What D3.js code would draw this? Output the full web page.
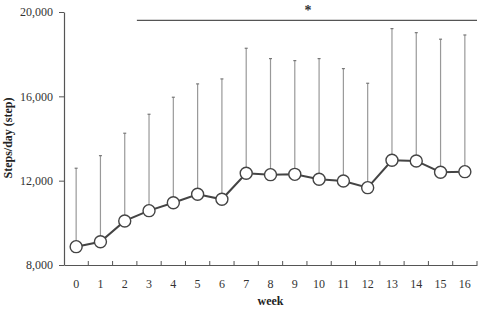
<!DOCTYPE html>
<html>
<head>
<meta charset="utf-8">
<script src="https://cdn.jsdelivr.net/npm/d3@7"></script>
<style>
  body { margin: 0; background: #fff; }
  text { font-family: "Liberation Serif", "DejaVu Serif", serif; fill: #333; }
  .axis-label { font-weight: bold; font-size: 12px; fill: #222; }
</style>
</head>
<body>
<svg id="chart" width="478" height="311"></svg>
<script>
// Steps/day by week, mean with upper SD bar
const weeks = d3.range(0, 17).map(String);
const meanSteps = [8870, 9105, 10090, 10577, 10956, 11354, 11117, 12350, 12285, 12300,
                   12066, 11986, 11668, 12968, 12935, 12400, 12427];
const upperSteps = [12590, 13186, 14250, 15150, 15957, 16590, 16826, 18280, 17790, 17694,
                    17790, 17315, 16620, 19212, 19020, 18710, 18910];
const yTicks = [8000, 12000, 16000, 20000];
// significance bracket: from week 3 to the end, marked "*"
const sigFrom = "3";
const sigLevel = 19600;

(function() {
  const svg = d3.select("#chart");
  const margin = { top: 12, right: 1, bottom: 46, left: 64 };
  const innerW = +svg.attr("width") - margin.left - margin.right;
  const innerH = +svg.attr("height") - margin.top - margin.bottom;
  const g = svg.append("g").attr("transform", `translate(${margin.left},${margin.top})`);

  const x = d3.scaleBand().domain(weeks).range([0, innerW]);
  const y = d3.scaleLinear().domain([8000, 20000]).range([innerH, 0]);
  const cx = w => x(w) + x.bandwidth() / 2;

  // Axes
  const yAxis = g.append("g")
    .call(d3.axisLeft(y).tickValues(yTicks).tickFormat(d3.format(",")).tickSize(5).tickPadding(6).tickSizeOuter(0));
  const xAxis = g.append("g")
    .attr("transform", `translate(0,${innerH})`)
    .call(d3.axisBottom(x).tickSize(0).tickPadding(14));
  // x ticks sit on band edges and point up
  xAxis.selectAll(".edge")
    .data(d3.range(1, weeks.length + 1))
    .join("line")
    .attr("class", "edge")
    .attr("x1", i => i * x.bandwidth()).attr("x2", i => i * x.bandwidth())
    .attr("y1", 0).attr("y2", -4)
    .attr("stroke", "#555");
  [yAxis, xAxis].forEach(a => {
    a.select(".domain").attr("stroke", "#555").attr("stroke-width", 1.2);
    a.selectAll(".tick line").attr("stroke", "#555");
    a.selectAll("text").attr("font-size", 12).attr("fill", "#333")
      .attr("font-family", "Liberation Serif, serif");
  });

  // Error bars (upper only)
  g.selectAll(".err")
    .data(weeks)
    .join("line")
    .attr("class", "err")
    .attr("x1", cx).attr("x2", cx)
    .attr("y1", (d, i) => y(meanSteps[i]))
    .attr("y2", (d, i) => y(upperSteps[i]))
    .attr("stroke", "#999").attr("stroke-width", 1.2);
  g.selectAll(".cap")
    .data(weeks)
    .join("line")
    .attr("class", "cap")
    .attr("x1", d => cx(d) - 1.5).attr("x2", d => cx(d) + 1.5)
    .attr("y1", (d, i) => y(upperSteps[i]))
    .attr("y2", (d, i) => y(upperSteps[i]))
    .attr("stroke", "#777").attr("stroke-width", 1.2);

  // Mean line
  const line = d3.line().x((d, i) => cx(weeks[i])).y(d => y(d));
  g.append("path")
    .datum(meanSteps)
    .attr("fill", "none")
    .attr("stroke", "#444")
    .attr("stroke-width", 2)
    .attr("d", line);

  g.selectAll(".pt")
    .data(meanSteps)
    .join("circle")
    .attr("class", "pt")
    .attr("cx", (d, i) => cx(weeks[i]))
    .attr("cy", d => y(d))
    .attr("r", 6)
    .attr("fill", "#fff")
    .attr("stroke", "#444")
    .attr("stroke-width", 1.4);

  // Significance bar
  g.append("line")
    .attr("x1", x(sigFrom)).attr("x2", innerW)
    .attr("y1", y(sigLevel)).attr("y2", y(sigLevel))
    .attr("stroke", "#555").attr("stroke-width", 1.2);
  g.append("text")
    .attr("x", (x(sigFrom) + innerW) / 2 + 1)
    .attr("y", y(sigLevel) - 5)
    .attr("text-anchor", "middle")
    .attr("font-size", 14)
    .attr("font-weight", "bold")
    .text("*");

  // Axis labels
  svg.append("text")
    .attr("class", "axis-label")
    .attr("x", margin.left + innerW / 2)
    .attr("y", 305)
    .attr("text-anchor", "middle")
    .text("week");
  svg.append("text")
    .attr("class", "axis-label")
    .attr("transform", `translate(12, 138) rotate(-90)`)
    .attr("text-anchor", "middle")
    .text("Steps/day (step)");
})();
</script>
</body>
</html>
